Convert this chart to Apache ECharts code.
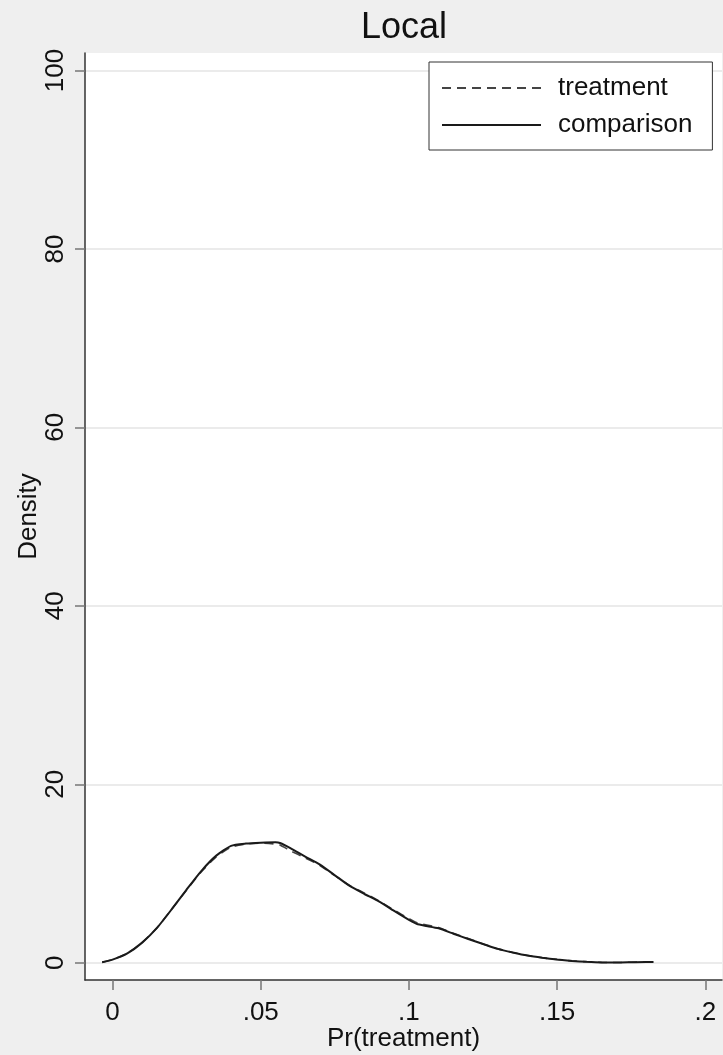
<!DOCTYPE html>
<html>
<head>
<meta charset="utf-8">
<title>Local</title>
<script src="https://cdn.jsdelivr.net/npm/echarts@6/dist/echarts.min.js"></script>
<style>
  html, body { margin: 0; padding: 0; background: #efefef; }
  #chart { width: 723px; height: 1055px; }
</style>
</head>
<body>
<div id="chart"></div>
<script>
// Kernel density estimates of the propensity score, Pr(treatment)
const prValues = [-0.0035, 0, 0.005, 0.01, 0.015, 0.02, 0.025, 0.03, 0.035, 0.04, 0.045, 0.05, 0.055, 0.0565, 0.06, 0.065, 0.07, 0.075, 0.08, 0.085, 0.09, 0.095, 0.1, 0.103, 0.11, 0.115, 0.12, 0.125, 0.13, 0.135, 0.14, 0.145, 0.15, 0.155, 0.16, 0.165, 0.17, 0.175, 0.18, 0.1825];
const treatmentDensity = [0.05, 0.35, 1.05, 2.25, 3.9, 6.0, 8.15, 10.2, 11.85, 12.95, 13.3, 13.4, 13.3, 13.2, 12.55, 11.75, 10.9, 9.75, 8.65, 7.8, 6.9, 5.9, 4.95, 4.45, 3.95, 3.3, 2.7, 2.1, 1.55, 1.15, 0.8, 0.55, 0.35, 0.2, 0.1, 0.03, 0.02, 0.05, 0.08, 0.08];
const comparisonDensity = [0.05, 0.35, 1.05, 2.25, 3.9, 6.0, 8.2, 10.3, 12.0, 13.1, 13.35, 13.45, 13.5, 13.42, 12.85, 11.9, 11.0, 9.8, 8.6, 7.7, 6.85, 5.8, 4.8, 4.3, 3.85, 3.25, 2.65, 2.1, 1.55, 1.15, 0.8, 0.55, 0.35, 0.2, 0.1, 0.03, 0.02, 0.05, 0.08, 0.08];

const seriesNames = ['treatment', 'comparison'];
const xTicks = [0, 0.05, 0.1, 0.15, 0.2];
const xTickLabels = ['0', '.05', '.1', '.15', '.2'];
const yTicks = [0, 20, 40, 60, 80, 100];

const pairs = (xs, ys) => xs.map((x, i) => [x, ys[i]]);
const FONT = 'Liberation Sans';

const chart = echarts.init(document.getElementById('chart'), null, { renderer: 'canvas' });
chart.setOption({
  backgroundColor: '#efefef',
  animation: false,
  title: {
    text: 'Local',
    left: 361,
    top: 10,
    padding: 0,
    textStyle: { fontFamily: FONT, fontSize: 36, fontWeight: 'normal', color: '#111' }
  },
  legend: {
    data: seriesNames,
    orient: 'vertical',
    left: 429,
    top: 62,
    padding: [13, 20, 12, 12],
    itemGap: 11,
    itemWidth: 99,
    itemHeight: 26,
    backgroundColor: '#ffffff',
    borderColor: '#333333',
    borderWidth: 1,
    borderRadius: 0,
    itemStyle: { opacity: 0 },
    textStyle: { fontFamily: FONT, fontSize: 26, color: '#111', padding: [0, 0, 0, 12] }
  },
  grid: {
    left: 85, right: 1, top: 53, bottom: 75,
    outerBoundsMode: 'none',
    containLabel: false,
    show: true, backgroundColor: '#ffffff', borderWidth: 0
  },
  xAxis: {
    type: 'value',
    min: -0.00928,
    max: 0.2056,
    name: 'Pr(treatment)',
    nameLocation: 'middle',
    nameGap: 46,
    nameMoveOverlap: false,
    nameTextStyle: { fontFamily: FONT, fontSize: 26, color: '#111' },
    axisLine: { show: true, onZero: false, lineStyle: { color: '#333', width: 1.5 } },
    axisTick: { show: true, length: 10, customValues: xTicks, lineStyle: { color: '#777', width: 1.5 } },
    axisLabel: {
      customValues: xTicks,
      margin: 20,
      fontFamily: FONT, fontSize: 26, color: '#111',
      formatter: v => xTickLabels[xTicks.findIndex(t => Math.abs(t - v) < 1e-9)] ?? ''
    },
    splitLine: { show: false }
  },
  yAxis: {
    type: 'value',
    min: -1.94,
    max: 101.96,
    name: 'Density',
    nameLocation: 'middle',
    nameGap: 43,
    nameMoveOverlap: false,
    nameTextStyle: { fontFamily: FONT, fontSize: 26, color: '#111' },
    axisLine: { show: true, onZero: false, lineStyle: { color: '#333', width: 1.5 } },
    axisTick: { show: true, length: 10, customValues: yTicks, lineStyle: { color: '#777', width: 1.5 } },
    axisLabel: {
      customValues: yTicks,
      rotate: 90,
      margin: 16,
      fontFamily: FONT, fontSize: 26, color: '#111'
    },
    splitLine: { show: true, lineStyle: { color: '#e4e4e4', width: 1.5 } }
  },
  series: [
    {
      name: seriesNames[0],
      type: 'line',
      data: pairs(prValues, treatmentDensity),
      symbol: 'none',
      smooth: 0.2,
      lineStyle: { color: '#444', width: 1.6, type: [9, 6] },
      itemStyle: { color: '#444' },
      z: 2
    },
    {
      name: seriesNames[1],
      type: 'line',
      data: pairs(prValues, comparisonDensity),
      symbol: 'none',
      smooth: 0.2,
      lineStyle: { color: '#1a1a1a', width: 2 },
      itemStyle: { color: '#1a1a1a' },
      z: 3
    }
  ]
});
</script>
</body>
</html>
